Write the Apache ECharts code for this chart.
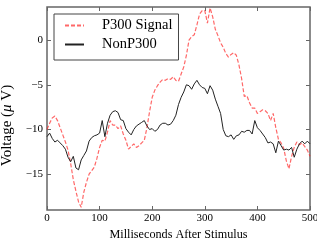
<!DOCTYPE html>
<html>
<head>
<meta charset="utf-8">
<script src="https://cdn.jsdelivr.net/npm/echarts@6/dist/echarts.min.js"></script>
<style>
    html, body { margin: 0; padding: 0; background: #fff; }
    #main { width: 317px; height: 240px; }
</style>
</head>
<body>
<div id="main"></div>
<script>
// 时间点 (ms)
var ms = [0, 5, 10, 15, 20, 25, 30, 35, 40, 45, 50, 55, 60, 65, 70, 75, 80, 85, 90, 95,
    100, 105, 110, 115, 120, 125, 130, 135, 140, 145, 150, 155, 160, 165, 170, 175, 180, 185, 190, 195,
    200, 205, 210, 215, 220, 225, 230, 235, 240, 245, 250, 255, 260, 265, 270, 275, 280, 285, 290, 295,
    300, 305, 310, 315, 320, 325, 330, 335, 340, 345, 350, 355, 360, 365, 370, 375, 380, 385, 390, 395,
    400, 405, 410, 415, 420, 425, 430, 435, 440, 445, 450, 455, 460, 465, 470, 475, 480, 485, 490, 495, 500];

// P300 Signal
var p300 = [-10.0, -9.3, -8.7, -8.5, -9.0, -9.8, -10.6, -11.4, -12.3, -13.8,
    -15.6, -16.9, -18.1, -18.7, -17.0, -15.9, -15.0, -14.6, -14.2, -13.2,
    -12.0, -11.2, -11.3, -10.3, -9.0, -9.5, -9.5, -9.9, -9.6, -10.5,
    -11.2, -12.2, -11.9, -11.6, -12.0, -11.8, -11.5, -11.2, -9.8, -8.0,
    -6.4, -5.6, -5.1, -4.7, -4.4, -4.5, -4.3, -4.4, -4.1, -4.5,
    -4.6, -3.8, -3.0, -1.7, 0.0, 0.4, 0.6, 1.7, 2.9, 3.3,
    3.3, 1.9, 3.6, 2.6, 1.2, 0.5, -0.3, -0.8, -1.5, -1.9,
    -1.6, -1.4, -1.7, -2.8, -4.3, -6.3, -6.2, -7.0, -7.6, -7.6,
    -8.2, -8.0, -7.8, -7.9, -8.2, -9.0, -8.2, -9.8, -11.1, -11.5,
    -12.1, -13.5, -14.4, -13.0, -12.0, -11.4, -11.7, -11.5, -11.9, -12.3, -13.0];

// NonP300
var nonP300 = [-10.8, -10.4, -11.0, -11.4, -11.2, -11.5, -11.8, -12.2, -13.1, -13.6,
    -13.0, -14.3, -14.5, -13.4, -12.9, -12.4, -11.3, -10.9, -10.7, -10.6,
    -10.4, -9.0, -10.8, -9.3, -8.4, -8.0, -7.9, -8.1, -8.9, -9.0,
    -9.9, -10.3, -10.6, -10.0, -9.6, -9.4, -9.2, -9.0, -9.6, -10.0,
    -9.9, -10.2, -10.0, -9.5, -9.3, -9.3, -9.5, -9.4, -9.0, -8.4,
    -7.2, -6.4, -5.8, -5.0, -5.1, -5.5, -4.9, -4.5, -5.0, -5.3,
    -5.4, -6.0, -5.1, -5.6, -6.6, -7.4, -8.2, -10.0, -10.7, -10.8,
    -10.6, -11.1, -10.7, -10.6, -10.2, -10.3, -10.1, -10.1, -10.5, -9.0,
    -9.8, -10.1, -10.5, -10.9, -11.5, -11.4, -11.6, -12.6, -11.3, -11.8,
    -12.3, -12.2, -12.3, -12.0, -13.1, -12.2, -11.6, -11.3, -11.6, -11.3, -11.6];

// 刻度
var yTicks = [-15, -10, -5, 0];

var font = 'Liberation Serif, Times New Roman, serif';
var frameColor = '#666';

function pairs(vals){
    return vals.map(function(v, i){ return [ms[i], v]; });
}

// 向内的刻度线
function tickInside(values){
    var t = {
        show: true,
        inside: true,
        length: 4,
        lineStyle: { color: frameColor, width: 1 }
    };
    if (values) t.customValues = values;
    return t;
}

var myChart = echarts.init(document.getElementById('main'));

var option = {
    animation: false,
    grid: {
        left: 47,
        right: 7,
        top: 7,
        bottom: 30,
        outerBoundsMode: 'none',
        containLabel: false,
        show: true,
        borderColor: frameColor,
        borderWidth: 1.5,
        backgroundColor: 'transparent'
    },
    legend: {
        orient: 'vertical',
        left: 54,
        top: 14,
        padding: [4, 6, 8, 10],
        itemGap: 4,
        itemWidth: 19,
        itemHeight: 12,
        backgroundColor: '#fff',
        borderColor: '#444',
        borderWidth: 1,
        borderRadius: 0,
        itemStyle: { color: 'transparent', borderWidth: 0, opacity: 0 },
        textStyle: {
            fontFamily: font,
            fontSize: 14.5,
            color: '#000',
            lineHeight: 15,
            padding: [0, 0, 0, 13]
        },
        data: ['P300 Signal', 'NonP300']
    },
    xAxis: [{
        type: 'value',
        min: 0,
        max: 500,
        interval: 100,
        position: 'bottom',
        name: 'Milliseconds After Stimulus',
        nameLocation: 'middle',
        nameGap: 14,
        nameTextStyle: { fontFamily: font, fontSize: 12.2, color: '#000' },
        axisLine: { show: false, onZero: false },
        axisTick: tickInside(),
        axisLabel: { margin: 3, fontFamily: font, fontSize: 11, color: '#000' },
        splitLine: { show: false }
    }, {
        type: 'value',
        min: 0,
        max: 500,
        interval: 100,
        position: 'top',
        axisLine: { show: false, onZero: false },
        axisTick: tickInside(),
        axisLabel: { show: false },
        splitLine: { show: false }
    }],
    yAxis: [{
        type: 'value',
        min: -19,
        max: 3.7,
        position: 'left',
        name: 'Voltage ({mu|μ} V)',
        nameLocation: 'middle',
        nameGap: 23,
        nameTextStyle: {
            fontFamily: font,
            fontSize: 15,
            color: '#000',
            padding: [0, 34, 0, 0],
            rich: {
                mu: { fontFamily: font, fontSize: 15, fontStyle: 'italic', color: '#000' }
            }
        },
        axisLine: { show: false, onZero: false },
        axisTick: tickInside(yTicks),
        axisLabel: {
            margin: 4,
            fontFamily: font,
            fontSize: 11,
            color: '#000',
            customValues: yTicks,
            formatter: function(v){ return String(v).replace('-', '\u2212'); }
        },
        splitLine: { show: false }
    }, {
        type: 'value',
        min: -19,
        max: 3.7,
        position: 'right',
        axisLine: { show: false, onZero: false },
        axisTick: tickInside(yTicks),
        axisLabel: { show: false, customValues: yTicks },
        splitLine: { show: false }
    }],
    series: [{
        name: 'P300 Signal',
        type: 'line',
        symbol: 'none',
        xAxisIndex: 0,
        yAxisIndex: 0,
        lineStyle: { color: 'rgba(255, 40, 40, 0.7)', width: 1.2, type: [4, 2] },
        itemStyle: { color: 'rgba(255, 40, 40, 0.7)' },
        data: pairs(p300)
    }, {
        name: 'NonP300',
        type: 'line',
        symbol: 'none',
        xAxisIndex: 0,
        yAxisIndex: 0,
        lineStyle: { color: '#222', width: 1 },
        itemStyle: { color: '#222' },
        data: pairs(nonP300)
    }]
};

myChart.setOption(option);
</script>
</body>
</html>
